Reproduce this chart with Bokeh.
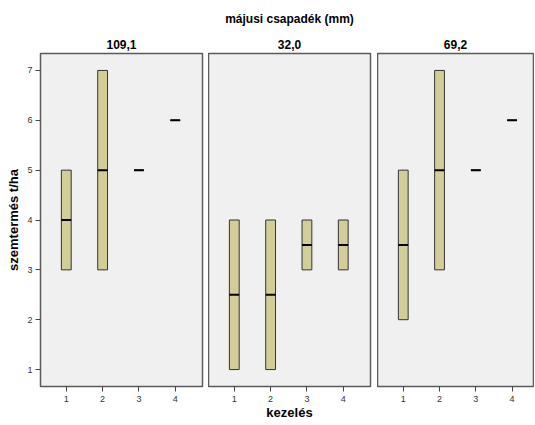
from bokeh.plotting import figure
from bokeh.layouts import row
from bokeh.models import Title, FixedTicker, Range1d
from bokeh.embed import file_html
from bokeh.resources import INLINE

# ---- data ----
kezeles = [1, 2, 3, 4]
csapadek = ["109,1", "32,0", "69,2"]
q1 = [[3, 3, 5, 6], [1, 1, 3, 3], [2, 3, 5, 6]]
median = [[4, 5, 5, 6], [2.5, 2.5, 3.5, 3.5], [3.5, 5, 5, 6]]
q3 = [[5, 7, 5, 6], [4, 4, 4, 4], [5, 7, 5, 6]]
y_ticks = [1, 2, 3, 4, 5, 6, 7]

FONT = "Liberation Sans"
BOX_FILL = "#d3ce97"
BOX_LINE = "#333333"
BG = "#f0f0f0"
FRAME = "#5a5a5a"
BOX_W = 0.27

widths = [208, 169, 157]
x_max = [4.75, 4.75, 4.59]
left_b = [40, 0, 0]
right_b = [6, 7, 1]
H = 424


def style_title(t, txt):
    t.text = txt
    t.align = "center"
    t.text_font = FONT
    t.text_font_size = "12px"
    t.text_font_style = "bold"
    t.text_color = "black"


figs = []
for i in range(3):
    p = figure(width=widths[i], height=H,
               x_range=Range1d(0.29, x_max[i]), y_range=Range1d(0.66, 7.34),
               output_backend="svg", toolbar_location=None,
               y_axis_location="left" if i == 0 else None,
               min_border_left=left_b[i], min_border_right=right_b[i],
               min_border_top=53, min_border_bottom=H - 53 - 333,
               background_fill_color=BG, border_fill_color="white",
               outline_line_color=FRAME, outline_line_width=1.5)
    p.grid.visible = False
    if i == 1:
        style_title(p.title, "májusi csapadék (mm)")
        p.title.standoff = 15
        t = Title()
        style_title(t, csapadek[i])
        t.standoff = 9
        p.add_layout(t, "above")
        p.xaxis.axis_label = "kezelés"
        p.xaxis.axis_label_text_font = FONT
        p.xaxis.axis_label_text_font_size = "13px"
        p.xaxis.axis_label_text_font_style = "bold"
        p.xaxis.axis_label_text_color = "black"
        p.xaxis.axis_label_standoff = 0
    else:
        style_title(p.title, csapadek[i])
        p.title.standoff = 9

    # x axis
    p.xaxis.ticker = FixedTicker(ticks=kezeles)
    p.xaxis.axis_line_color = None
    p.xaxis.major_tick_line_color = "#444444"
    p.xaxis.major_tick_out = 5
    p.xaxis.major_tick_in = 0
    p.xaxis.minor_tick_line_color = None
    p.xaxis.major_label_standoff = 4
    p.xaxis.major_label_text_font = FONT
    p.xaxis.major_label_text_font_size = "9px"
    p.xaxis.major_label_text_color = "#333333"

    if i == 0:
        p.yaxis.ticker = FixedTicker(ticks=y_ticks)
        p.yaxis.axis_line_color = None
        p.yaxis.major_tick_line_color = "#444444"
        p.yaxis.major_tick_out = 5
        p.yaxis.major_tick_in = 0
        p.yaxis.minor_tick_line_color = None
        p.yaxis.major_label_standoff = 3
        p.yaxis.major_label_text_font = FONT
        p.yaxis.major_label_text_font_size = "9px"
        p.yaxis.major_label_text_color = "#333333"
        p.yaxis.axis_label = "szemtermés t/ha"
        p.yaxis.axis_label_text_font = FONT
        p.yaxis.axis_label_text_font_size = "13px"
        p.yaxis.axis_label_text_font_style = "bold"
        p.yaxis.axis_label_text_color = "black"
        p.yaxis.axis_label_standoff = 3

    # boxes
    p.vbar(x=kezeles, bottom=q1[i], top=q3[i], width=BOX_W,
           fill_color=BOX_FILL, line_color=BOX_LINE, line_width=1)
    # medians
    x0 = [k - BOX_W / 2 for k in kezeles]
    x1 = [k + BOX_W / 2 for k in kezeles]
    p.segment(x0=x0, y0=median[i], x1=x1, y1=median[i],
              line_color="black", line_width=2)
    figs.append(p)

layout = row(figs, spacing=0)
open("out.html", "w").write(file_html(layout, INLINE))
